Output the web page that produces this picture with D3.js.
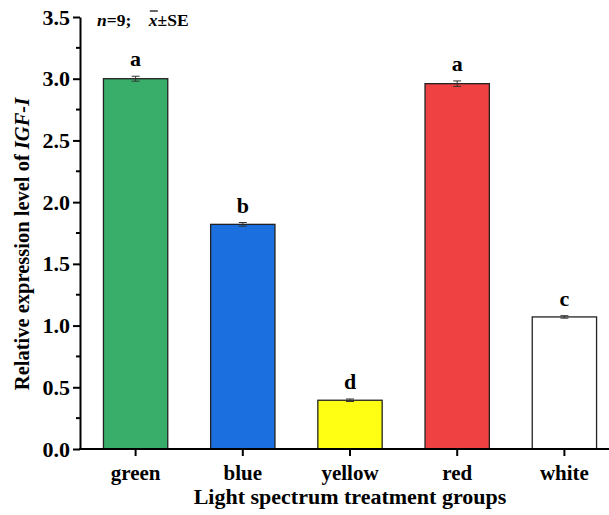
<!DOCTYPE html>
<html>
<head>
<meta charset="utf-8">
<script src="https://cdn.jsdelivr.net/npm/d3@7"></script>
<style>
  body { margin: 0; background: #fff; }
  text { font-family: "Liberation Serif", "Times New Roman", serif; font-weight: bold; fill: #000; }
</style>
</head>
<body>
<div id="chart"></div>
<script>
const groups = ["green", "blue", "yellow", "red", "white"];
const means = [3.0, 1.82, 0.395, 2.96, 1.07];
const errors = [0.02, 0.015, 0.01, 0.022, 0.01];
const letters = ["a", "b", "d", "a", "c"];
const colors = ["#38ae6a", "#1b6fde", "#ffff14", "#f04142", "#ffffff"];
const yTicks = [0, 0.5, 1.0, 1.5, 2.0, 2.5, 3.0, 3.5];

const W = 609, H = 515;
const svg = d3.select("#chart").append("svg").attr("width", W).attr("height", H);

const y = d3.scaleLinear().domain([0, 3.5]).range([449, 17]);
const x = d3.scaleBand().domain(groups).range([82, 618]).paddingInner(0.4).paddingOuter(0.2);

// bars
svg.selectAll("rect.bar")
  .data(groups)
  .join("rect")
  .attr("class", "bar")
  .attr("x", d => x(d))
  .attr("y", (d, i) => y(means[i]))
  .attr("width", x.bandwidth())
  .attr("height", (d, i) => y(0) - y(means[i]))
  .attr("fill", (d, i) => colors[i])
  .attr("stroke", "#222")
  .attr("stroke-width", 1.3);

// error bars
const eb = svg.selectAll("g.err").data(groups).join("g").attr("class", "err")
  .attr("transform", d => `translate(${x(d) + x.bandwidth() / 2},0)`);
eb.append("line")
  .attr("y1", (d, i) => y(means[i] - errors[i]))
  .attr("y2", (d, i) => y(means[i] + errors[i]))
  .attr("stroke", "#333").attr("stroke-width", 1);
eb.selectAll("line.cap")
  .data((d, i) => [means[i] - errors[i], means[i] + errors[i]])
  .join("line")
  .attr("class", "cap")
  .attr("x1", -4).attr("x2", 4)
  .attr("y1", v => y(v)).attr("y2", v => y(v))
  .attr("stroke", "#333").attr("stroke-width", 1);

// letters
svg.selectAll("text.sig")
  .data(groups)
  .join("text")
  .attr("class", "sig")
  .attr("x", d => x(d) + x.bandwidth() / 2)
  .attr("y", (d, i) => y(means[i] + errors[i]) - 10)
  .attr("text-anchor", "middle")
  .style("font-size", "22px")
  .text((d, i) => letters[i]);

// y axis
const yAxis = svg.append("g").attr("transform", "translate(80,0)")
  .call(d3.axisLeft(y).tickValues(yTicks).tickFormat(d3.format(".1f")).tickSize(7).tickSizeOuter(0));
yAxis.select(".domain").attr("stroke-width", 2);
yAxis.selectAll(".tick line").attr("stroke-width", 2);
yAxis.selectAll(".tick text").style("font-size", "22px").attr("x", -10);
// minor ticks
svg.append("g").selectAll("line")
  .data(d3.range(0.25, 3.5, 0.5))
  .join("line")
  .attr("x1", 80).attr("x2", 76)
  .attr("y1", d => y(d)).attr("y2", d => y(d))
  .attr("stroke", "#000").attr("stroke-width", 2);

// x axis
const xAxis = svg.append("g").attr("transform", `translate(0,${y(0)})`)
  .call(d3.axisBottom(x).tickSize(7).tickSizeOuter(0));
xAxis.select(".domain").attr("d", `M79,0H${W}`).attr("stroke-width", 2);
xAxis.selectAll(".tick line").attr("stroke-width", 2);
xAxis.selectAll(".tick text").style("font-size", "21px").attr("dy", "0").attr("y", 31);

// axis titles
svg.append("text")
  .attr("x", 350).attr("y", 504)
  .attr("text-anchor", "middle")
  .style("font-size", "22px")
  .text("Light spectrum treatment groups");

const yt = svg.append("text")
  .attr("transform", "translate(29,244) rotate(-90)")
  .attr("text-anchor", "middle")
  .style("font-size", "20.5px");
yt.append("tspan").text("Relative expression level of ");
yt.append("tspan").style("font-style", "italic").text("IGF-I");

// annotation
const ann = svg.append("text").attr("x", 97).attr("y", 26).style("font-size", "17.5px");
ann.append("tspan").style("font-style", "italic").text("n");
ann.append("tspan").text("=9;\u00a0\u00a0\u00a0\u00a0");
const xbar = ann.append("tspan").style("font-style", "italic").text("x");
ann.append("tspan").text("\u00b1SE");
const bb = xbar.node().getBBox();
svg.append("line")
  .attr("x1", bb.x + 2).attr("x2", bb.x + bb.width)
  .attr("y1", bb.y + 1).attr("y2", bb.y + 1)
  .attr("stroke", "#000").attr("stroke-width", 1.2);
</script>
</body>
</html>
